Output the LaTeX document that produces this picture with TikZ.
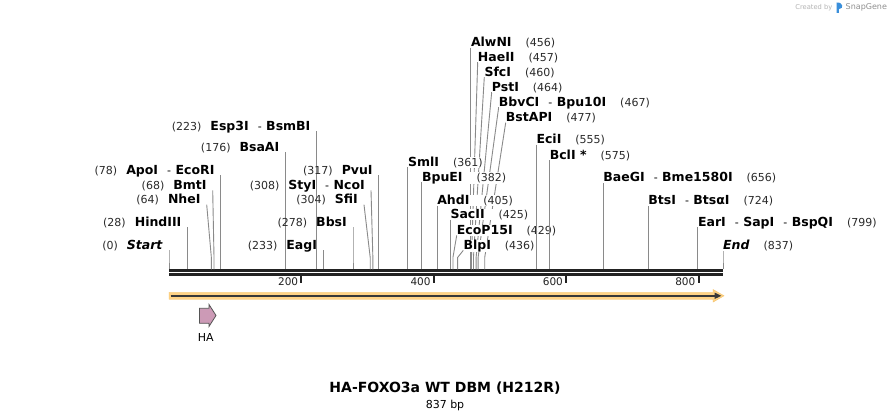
\documentclass[tikz,border=0pt]{standalone}
\usepackage{fontspec}
\setmainfont{DejaVu Sans}
\usepackage{xcolor}
\usetikzlibrary{calc, arrows.meta, positioning}
\definecolor{cutgray}{HTML}{8A8A8A}
\definecolor{mapdark}{HTML}{222222}
\definecolor{numdark}{HTML}{2A2A2A}
\definecolor{featorange}{HTML}{FFD386}
\definecolor{featedge}{HTML}{F3C066}
\definecolor{hapink}{HTML}{CC9AB6}
\definecolor{haedge}{HTML}{555555}
\definecolor{logoblue}{HTML}{3A8FDB}
\definecolor{creditgray}{HTML}{B4B4B4}
\newcommand\bpnum[1]{{\fontsize{11}{13}\selectfont\mdseries\color{numdark}(#1)}}
\newcommand\enzsep{\hspace{9pt}{\mdseries\fontsize{11}{13}\selectfont -}\hspace{4.5pt}}
\newcommand\numgap{\hspace{14pt}}
\tikzset{
	site/.style={
		inner sep=0pt,
		font=\fontsize{12.5}{14}\selectfont\bfseries
	},
	cut/.style={
		draw=cutgray,
		line width=.9pt
	},
	mapline/.style={
		draw=mapdark
	},
	tickmark/.style={
		draw=mapdark,
		line width=2pt
	},
	ticklbl/.style={
		inner sep=0pt,
		text=mapdark,
		font=\fontsize{10.5}{12}\selectfont
	},
	featlbl/.style={
		inner sep=0pt,
		font=\fontsize{11}{13}\selectfont
	}
}

\begin{document}
\begin{tikzpicture}[x=1pt, y=-1pt]
		\fill[white] (0,0) rectangle (892,419);
		\useasboundingbox (0,0) rectangle (892,419);

		\draw[mapline, line width=2.7pt] (169,270.7) -- (723,270.7);
		\draw[mapline, line width=2.4pt] (169,274.5) -- (723,274.5);

		\foreach \t in {200,400,600,800} {
			\pgfmathsetmacro{\xt}{169+\t*0.661888}
			\coordinate (tick-\t) at (\xt,275.5);
			\draw[tickmark] (tick-\t) -- ++(0,7.5);
			\node[ticklbl, anchor=east] (ticklbl-\t) at (\xt-3,282) {\t};
		}

		\foreach \i/\bp/\xt/\yb/\txt in {
			1/0/0/249.4/{\bpnum{0}\hspace{9pt}\textit{Start}},
			2/28/0/226.1/{\bpnum{28}\hspace{9pt}HindIII},
			3/64/206.7/203.7/{\bpnum{64}\hspace{9pt}NheI},
			4/68/212.7/189.4/{\bpnum{68}\hspace{9pt}BmtI},
			5/78/0/174.4/{\bpnum{78}\hspace{9pt}ApoI\enzsep EcoRI},
			6/176/0/151.1/{\bpnum{176}\hspace{9pt}BsaAI},
			7/223/0/130.1/{\bpnum{223}\hspace{9pt}Esp3I\enzsep BsmBI},
			8/233/0/249.4/{\bpnum{233}\hspace{9pt}EagI},
			9/278/0/226.1/{\bpnum{278}\hspace{9pt}BbsI},
			10/304/364/203.7/{\bpnum{304}\hspace{9pt}SfiI},
			11/308/371/189.4/{\bpnum{308}\hspace{9pt}StyI\enzsep NcoI},
			12/317/0/174.4/{\bpnum{317}\hspace{9pt}PvuI}
		} {
			\pgfmathsetmacro{\xs}{169+\bp*0.661888}
			\ifdim\xt pt=0pt \let\xt\xs \fi
			\coordinate (top-\i) at (\xt,\yb+1);
			\coordinate (bend-\i) at (\xs,257.5);
			\coordinate (cut-\i) at (\xs,269.3);
			\node[site, anchor=base east] (lbl-\i) at (\xt-6,\yb) {\txt};
			\draw[cut] (top-\i) -- (bend-\i) -- (cut-\i);
		}

		\foreach \i/\bp/\xt/\yb/\txt in {
			19/456/0/46.7/{AlwNI\numgap\bpnum{456}},
			20/457/477.7/61.1/{HaeII\numgap\bpnum{457}},
			21/460/484.3/76.1/{SfcI\numgap\bpnum{460}},
			22/464/491.7/91.1/{PstI\numgap\bpnum{464}},
			23/467/498.7/106.1/{BbvCI\enzsep Bpu10I\numgap\bpnum{467}},
			24/477/505.7/121.7/{BstAPI\numgap\bpnum{477}},
			13/361/0/166.1/{SmlI\numgap\bpnum{361}},
			14/382/0/181.1/{BpuEI\numgap\bpnum{382}},
			15/405/0/204.4/{AhdI\numgap\bpnum{405}},
			16/425/0/218.7/{SacII\numgap\bpnum{425}},
			17/429/456.7/234.4/{EcoP15I\numgap\bpnum{429}},
			18/436/463.3/249.4/{BlpI\numgap\bpnum{436}},
			25/555/0/143.7/{EciI\numgap\bpnum{555}},
			26/575/0/159.4/{BclI *\numgap\bpnum{575}},
			27/656/0/181.1/{BaeGI\enzsep Bme1580I\numgap\bpnum{656}},
			28/724/0/204.4/{BtsI\enzsep BtsαI\numgap\bpnum{724}},
			29/799/0/226.1/{EarI\enzsep SapI\enzsep BspQI\numgap\bpnum{799}},
			30/837/0/249.4/{\textit{End}\numgap\bpnum{837}}
		} {
			\pgfmathsetmacro{\xs}{169+\bp*0.661888}
			\ifdim\xt pt=0pt \let\xt\xs \fi
			\coordinate (top-\i) at (\xt,\yb+1);
			\coordinate (bend-\i) at (\xs,257.5);
			\coordinate (cut-\i) at (\xs,269.3);
			\draw[cut] (top-\i) -- (bend-\i) -- (cut-\i);
			\node[site, fill=white, anchor=base west] (lbl-\i) at (\xt,\yb) {\txt};
		}

		\fill[featorange, draw=featedge, line width=.4pt] (169,292.3) -- (713,292.3) -- (713,289.5) -- (724,295.8) -- (713,302.1) -- (713,299.3) -- (169,299.3) -- cycle;
		\coordinate (orf-start) at (170.5,295.8);
		\coordinate (orf-end) at (721.5,295.8);
		\draw[draw=mapdark!90, line width=1.7pt, -{Triangle[length=7pt,width=6pt]}] (orf-start) -- (orf-end);

		\draw[fill=hapink, draw=haedge, line width=.8pt] (199.5,308.3) -- (209,308.3) -- (209,304.5) -- (216,315.5) -- (209,326.5) -- (209,323.3) -- (199.5,323.3) -- cycle;
		\node[featlbl] (ha-lbl) at (205.7,337.5) {HA};

		\node[inner sep=0pt, font=\fontsize{14}{16}\selectfont\bfseries] (title) at (445,388.3) {HA-FOXO3a WT DBM (H212R)};
		\node[inner sep=0pt, font=\fontsize{11}{13}\selectfont, below=5pt of title] (length) {837 bp};

		\node[inner sep=0pt, text=creditgray, font=\fontsize{6.7}{8}\selectfont, anchor=east] (credit) at (832.5,7.5) {Created by};
		\fill[logoblue] (836.5,13) -- (836.5,2.5) .. controls (843,2) and (844.5,8.5) .. (838.8,9.2) -- (838.8,13) -- cycle;
		\node[inner sep=0pt, text=creditgray!80!black, font=\fontsize{8}{10}\selectfont, anchor=west] (snapgene) at (845.5,7.5) {SnapGene};
	\end{tikzpicture}
\end{document}
